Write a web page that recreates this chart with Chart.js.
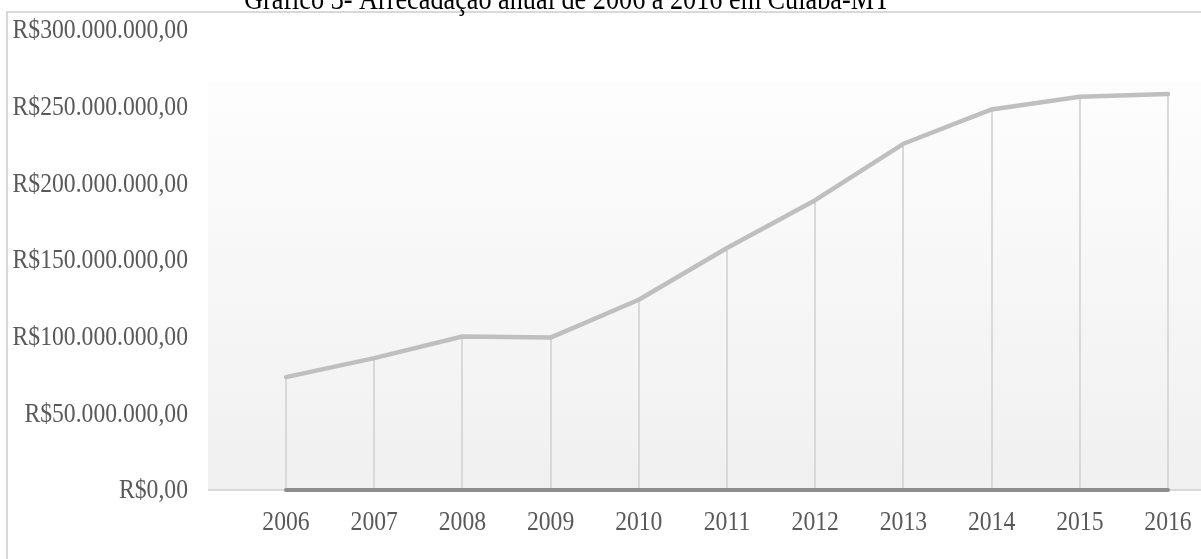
<!DOCTYPE html>
<html>
<head>
<meta charset="utf-8">
<script src="https://cdn.jsdelivr.net/npm/chart.js@4/dist/chart.umd.min.js"></script>
<style>
  html, body { margin: 0; padding: 0; background: #fff; }
  #wrap { width: 1201px; height: 559px; position: relative; }
</style>
</head>
<body>
<div id="wrap"><canvas id="arrecadacao" width="1201" height="559"></canvas></div>
<script>
// --- Data
const anos = ["2006", "2007", "2008", "2009", "2010", "2011", "2012", "2013", "2014", "2015", "2016"];
const arrecadacao = [73600000, 86000000, 100100000, 99400000, 124100000, 157800000, 189000000, 225800000, 248200000, 256500000, 258200000];
const linhaBase = [0, 0, 0, 0, 0, 0, 0, 0, 0, 0, 0];
const yTicks = [0, 50000000, 100000000, 150000000, 200000000, 250000000, 300000000];
const yTickLabels = ["R$0,00", "R$50.000.000,00", "R$100.000.000,00", "R$150.000.000,00", "R$200.000.000,00", "R$250.000.000,00", "R$300.000.000,00"];
const titulo = "Gráfico 3- Arrecadação anual de 2006 a 2016 em Cuiabá-MT";

const FONT = "'Liberation Serif', 'Times New Roman', serif";
const SQUEEZE = 0.86; // narrow serif look of the labels

// draws text squeezed horizontally around its anchor
function narrowText(ctx, text, x, y, align) {
  ctx.save();
  ctx.translate(x, y);
  ctx.scale(SQUEEZE, 1);
  ctx.textAlign = align;
  ctx.fillText(text, 0, 0);
  ctx.restore();
}

// ------------------------------------------
// BACKGROUND, FRAME, TITLE, DROP LINES, LABELS
// ------------------------------------------
const decor = {
  id: "decor",
  beforeDraw(chart) {
    const { ctx, chartArea, scales } = chart;
    const w = chart.width;
    const bottom = chartArea.bottom;
    const top = scales.y.getPixelForValue(266000000);
    const left = 208;

    ctx.save();
    // plot area gradient
    const g = ctx.createLinearGradient(0, top, 0, bottom);
    g.addColorStop(0, "#fdfdfd");
    g.addColorStop(1, "#f0f0f0");
    ctx.fillStyle = g;
    ctx.fillRect(left, top, w - left, bottom - top);

    // outer frame
    ctx.strokeStyle = "#d9d9d9";
    ctx.lineWidth = 2;
    ctx.beginPath();
    ctx.moveTo(7, chart.height);
    ctx.lineTo(7, 12);
    ctx.lineTo(w, 12);
    ctx.stroke();

    // title (sits above the frame)
    ctx.fillStyle = "#000";
    ctx.font = "30.5px " + FONT;
    ctx.textBaseline = "alphabetic";
    narrowText(ctx, titulo, 567, 9, "center");

    // category axis line
    ctx.strokeStyle = "#d9d9d9";
    ctx.lineWidth = 2;
    ctx.beginPath();
    ctx.moveTo(left, bottom);
    ctx.lineTo(w, bottom);
    ctx.stroke();
    ctx.restore();
  },
  beforeDatasetsDraw(chart) {
    const { ctx, scales } = chart;
    const meta = chart.getDatasetMeta(0);
    const y0 = scales.y.getPixelForValue(0);
    ctx.save();
    ctx.strokeStyle = "#d9d9d9";
    ctx.lineWidth = 2;
    meta.data.forEach(p => {
      ctx.beginPath();
      ctx.moveTo(Math.round(p.x), p.y);
      ctx.lineTo(Math.round(p.x), y0);
      ctx.stroke();
    });
    ctx.restore();
  },
  afterDraw(chart) {
    const { ctx, scales } = chart;
    ctx.save();
    ctx.fillStyle = "#595959";
    ctx.font = "27.5px " + FONT;
    ctx.textBaseline = "middle";
    yTicks.forEach((v, i) => {
      narrowText(ctx, yTickLabels[i], 188, scales.y.getPixelForValue(v) + 1, "right");
    });
    anos.forEach((a, i) => {
      narrowText(ctx, a, scales.x.getPixelForValue(i), 523, "center");
    });
    ctx.restore();
  }
};

// ------------------------------------------
// CHART
// ------------------------------------------
new Chart(document.getElementById("arrecadacao"), {
  type: "line",
  data: {
    labels: anos,
    datasets: [
      {
        label: "Arrecadação",
        data: arrecadacao,
        borderColor: "#bfbfbf",
        borderWidth: 4.5,
        borderCapStyle: "round",
        borderJoinStyle: "round",
        pointRadius: 0,
        tension: 0,
        order: 1
      },
      {
        label: "Base",
        data: linhaBase,
        borderColor: "#8c8c8c",
        borderWidth: 4,
        borderCapStyle: "round",
        pointRadius: 0,
        tension: 0,
        clip: 10,
        order: 0
      }
    ]
  },
  options: {
    responsive: false,
    animation: false,
    devicePixelRatio: 1,
    layout: { padding: { left: 10, top: 30, right: 33, bottom: 0 } },
    plugins: {
      legend: { display: false },
      tooltip: { enabled: false },
      title: { display: false }
    },
    scales: {
      x: {
        offset: false,
        grid: { display: false, drawTicks: false },
        border: { display: false },
        ticks: { display: false, autoSkip: false },
        afterFit(scale) {
          scale.height = 69;
          scale.paddingLeft = 0;
          scale.paddingRight = 0;
        }
      },
      y: {
        min: 0,
        max: 300000000,
        afterBuildTicks(scale) { scale.ticks = yTicks.map(v => ({ value: v })); },
        grid: { display: false, drawTicks: false },
        border: { display: false },
        ticks: { display: false },
        afterFit(scale) {
          scale.width = 276;
          scale.paddingTop = 0;
          scale.paddingBottom = 0;
        }
      }
    }
  },
  plugins: [decor]
});
</script>
</body>
</html>
